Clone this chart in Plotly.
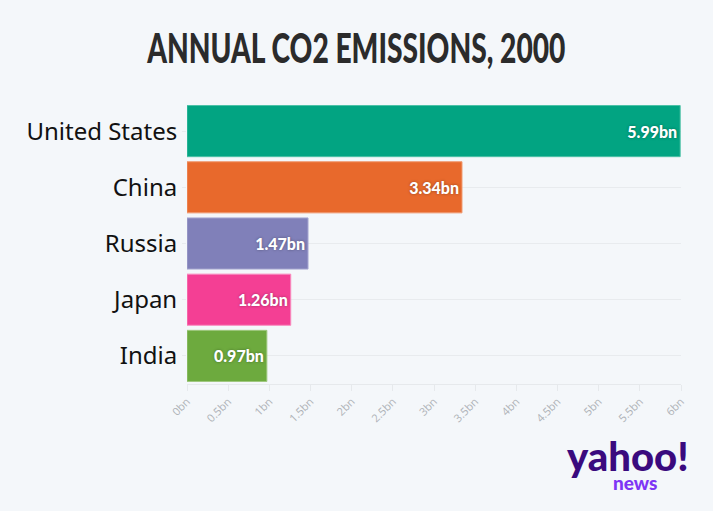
import plotly.graph_objects as go

countries = ["United States", "China", "Russia", "Japan", "India"]
emissions_bn = [5.99, 3.34, 1.47, 1.26, 0.97]
value_labels = ["5.99bn", "3.34bn", "1.47bn", "1.26bn", "0.97bn"]
bar_colors = ["#02A482", "#E8692C", "#8080B9", "#F43F94", "#6DAA3E"]
edge_colors = ["#4CC1A7", "#F09A70", "#A9A9D2", "#F98BBE", "#9FC87F"]
tick_vals = [0, 0.5, 1, 1.5, 2, 2.5, 3, 3.5, 4, 4.5, 5, 5.5, 6]
tick_text = ["0bn", "0.5bn", "1bn", "1.5bn", "2bn", "2.5bn", "3bn", "3.5bn",
             "4bn", "4.5bn", "5bn", "5.5bn", "6bn"]

BG = "#F4F7FA"

fig = go.Figure(go.Bar(
    y=countries,
    x=emissions_bn,
    orientation="h",
    marker=dict(color=bar_colors, line=dict(color=edge_colors, width=1)),
    text=value_labels,
    textposition="inside",
    insidetextanchor="end",
    textangle=0,
    textfont=dict(family="Lato, Noto Sans, sans-serif", size=16, color="white",
                  weight=900, shadow="0px 0px 3px rgba(0,0,0,0.35)"),
    cliponaxis=False,
    hoverinfo="skip",
))

fig.update_layout(
    width=713, height=511,
    paper_bgcolor=BG, plot_bgcolor=BG,
    margin=dict(l=187, r=32, t=103, b=127),
    bargap=0.09,
    showlegend=False,
    title=dict(
        text="ANNUAL CO2 EMISSIONS, 2000",
        x=0.5, xanchor="center", y=0.905, yanchor="middle",
        font=dict(family="Lato, Roboto, sans-serif", weight=900,
                  size=41, color="#2B2B2B"),
    ),
    xaxis=dict(
        range=[0, 6.0], tickvals=tick_vals, ticktext=tick_text,
        tickangle=-45, showgrid=False, zeroline=False,
        showline=True, linecolor="#E6E9EC", linewidth=1,
        ticks="outside", ticklen=6, tickcolor="#E6E9EC",
        tickfont=dict(family="Open Sans, Noto Sans, sans-serif", size=11, color="#AEB2B7"),
        fixedrange=True,
    ),
    yaxis=dict(
        autorange="reversed", showgrid=True, gridcolor="#E8EBEE", gridwidth=1,
        zeroline=False, ticks="outside", ticklen=4, tickcolor="#E8EBEE",
        ticklabelstandoff=0,
        tickfont=dict(family="Noto Sans, Open Sans, sans-serif", size=24, color="#111111"),
        fixedrange=True,
    ),
)

fig.add_annotation(
    text="yahoo!", xref="paper", yref="paper", x=1.02, y=-0.258,
    xanchor="right", yanchor="middle", showarrow=False,
    font=dict(family="Lato, Noto Sans, sans-serif", size=40, color="#3A0A7E", weight=900),
)
fig.add_annotation(
    text="news", xref="paper", yref="paper", x=0.955, y=-0.35,
    xanchor="right", yanchor="middle", showarrow=False,
    font=dict(family="Lato, Noto Sans, sans-serif", size=19, color="#7E35F5", weight=900),
)

post = """
document.body.style.margin = '0';
document.body.style.background = '#F4F7FA';
var gd = document.getElementById('{plot_id}');
var t = gd.querySelector('.gtitle');
if (t) {
  var b = t.getBBox();
  var s = 419 / b.width;
  var cx = b.x + b.width / 2;
  t.setAttribute('transform', 'translate(' + cx + ',0) scale(' + s + ',1) translate(' + (-cx) + ',0)');
}
"""

fig.write_html("out.html", post_script=post, config={"displayModeBar": False, "staticPlot": True})
